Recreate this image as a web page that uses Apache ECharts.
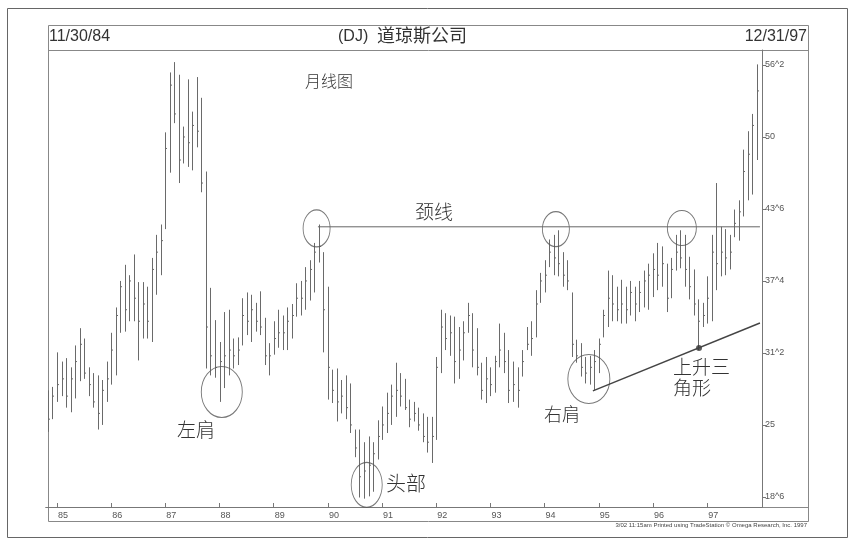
<!DOCTYPE html>
<html><head><meta charset="utf-8">
<script src="https://cdn.jsdelivr.net/npm/echarts@6/dist/echarts.min.js"></script>
<style>html,body{margin:0;padding:0;background:#fff}#c{width:853px;height:543px}</style>
</head><body><div id="c"></div>
<script>
// Monthly bars, Nov 1984 .. Dec 1997 (index 0 = Nov 1984)
const high = [
28.0,28.3,31.3,30.5,30.8,30.0,31.9,33.4,32.5,30.0,29.5,29.3,28.9,30.5,
33.0,35.2,37.5,38.9,38.0,39.8,37.4,37.4,37.0,39.5,41.5,42.4,
50.4,55.6,56.5,55.4,50.9,55.0,52.2,55.2,53.4,47.0,36.9,34.1,
32.2,34.8,35.0,32.5,32.6,36.0,36.5,36.3,35.6,36.6,34.3,32.1,
34.0,35.0,34.5,35.2,35.5,37.3,37.5,38.7,39.3,40.8,42.4,40.0,
37.0,29.8,29.9,28.9,29.3,28.6,24.6,24.6,23.5,24.0,23.5,25.4,
26.6,27.8,28.5,30.4,29.5,29.0,27.2,27.0,26.5,26.0,25.7,25.7,
30.9,35.0,34.7,34.5,34.4,33.5,34.0,35.6,34.7,33.4,30.4,30.9,
30.0,31.0,33.8,33.0,31.5,30.5,30.0,31.5,33.5,34.0,36.7,38.2,
39.3,41.1,41.5,41.9,40.0,39.3,36.5,32.4,32.1,30.9,31.0,31.5,
32.5,35.0,38.4,38.0,37.0,37.6,37.0,37.5,37.0,37.5,38.4,39.0,
39.9,40.8,40.5,39.0,39.5,41.5,41.9,41.5,39.6,38.5,35.9,35.6,
37.9,41.5,46.0,42.2,42.0,41.5,43.7,44.5,48.9,50.5,52.0,56.3
];
const low = [
24.4,25.5,27.0,27.5,26.5,26.1,27.3,28.8,29.0,27.5,26.5,24.6,25.0,27.0,
28.5,29.3,33.0,33.1,34.0,34.0,30.6,32.5,32.5,32.2,36.3,38.0,
42.0,46.9,51.2,46.0,47.7,47.4,47.1,49.1,45.2,29.9,29.3,29.1,
27.0,28.2,29.3,29.9,30.2,31.9,32.8,32.2,33.1,32.8,30.2,29.3,
31.1,31.7,31.5,31.5,32.5,34.4,34.5,35.0,35.8,36.5,39.1,31.3,
27.2,26.9,25.3,26.0,25.5,24.3,22.2,18.7,18.6,18.8,19.2,22.0,
23.7,24.3,25.0,25.7,26.6,26.3,24.8,25.3,24.5,23.5,22.6,21.7,
23.7,29.5,31.5,31.0,28.6,29.0,30.6,33.0,30.0,29.3,27.2,26.9,
27.5,27.8,30.0,29.5,26.9,27.0,26.5,29.2,31.5,31.0,32.6,35.6,
36.5,38.7,38.0,37.9,37.0,36.7,30.9,30.4,29.2,28.6,28.5,28.0,
29.5,32.6,33.5,34.0,34.0,33.8,33.8,34.5,34.0,34.8,35.2,35.0,
36.1,36.7,37.0,34.8,36.0,38.4,38.6,37.0,35.9,34.5,31.5,33.5,
33.8,34.0,36.7,37.9,38.0,38.5,41.3,41.0,43.1,44.5,45.0,48.0
];
const close = [
25.5,27.5,28.5,29.0,27.5,29.0,30.5,32.0,29.5,28.5,27.0,26.0,28.0,29.0,
31.5,34.5,37.0,35.0,37.5,36.0,34.0,35.5,34.0,38.5,40.0,41.0,
49.0,54.5,52.0,48.0,50.0,49.5,51.0,50.5,46.0,33.5,31.0,30.0,
30.5,31.0,31.5,31.0,31.5,34.5,34.0,35.0,34.0,33.5,31.0,31.0,
32.5,33.0,33.0,34.0,34.5,36.0,36.0,37.5,38.5,40.0,40.5,35.0,
30.0,28.0,27.0,27.5,26.5,25.0,23.0,20.5,21.0,21.5,22.5,24.0,
25.0,26.0,27.5,28.0,27.5,26.5,25.5,26.0,25.0,24.0,23.5,24.0,
30.0,33.5,32.5,33.0,30.5,31.5,33.0,34.5,31.5,30.0,28.0,29.0,
28.5,30.5,31.5,30.5,28.0,28.5,28.0,30.5,32.0,32.5,35.5,37.5,
38.0,40.0,39.5,39.0,38.0,37.5,32.0,31.0,30.0,29.5,30.0,30.5,
32.0,34.5,36.0,35.5,35.0,35.5,35.0,36.5,35.5,36.5,37.5,38.0,
38.5,38.0,39.0,36.0,38.5,40.0,39.5,38.5,37.0,35.5,34.0,34.5,
36.0,40.0,39.0,40.0,39.5,40.0,42.5,43.5,47.0,48.5,51.0,54.0
];
const yearLabels = ['85','86','87','88','89','90','91','92','93','94','95','96','97'];
const yearTickIdx = [2,14,26,38,50,62,74,86,98,110,122,134,146]; // January of each year
const priceTicks = [18.75,25,31.25,37.5,43.75,50,56.25];
const priceLabels = ['18^6','25','31^2','37^4','43^6','50','56^2'];
// Annotations (data coordinates: [month index, price])
const neckLine = [[59.8,42.2],[157.7,42.2]];
const trendLine = [[120.7,27.95],[157.7,33.85]];
const circleCenters = [[59.5,42.06],[112.5,42.0],[140.4,42.1],[38.5,27.86],[70.6,19.8],[119.8,28.99]];
const triangleLow = [[144.2,31.68]];

const circleSizes = [[27,37],[27,35],[29,35],[41,51],[31,45],[42,49]];
const bars = high.map((h,i)=>[i,h,low[i],close[i]]);

const chart = echarts.init(document.getElementById('c'));
const gray = '#777';
const txt = '#333';
const barColor = '#6a6a6a';
const cjk = '"Noto Sans CJK SC", sans-serif';
chart.setOption({
  backgroundColor:'#fff',
  animation:false,
  grid:{left:45.7,right:91,top:50,bottom:36},
  xAxis:{type:'value',min:-0.5,max:158.15,splitLine:{show:false},
    axisLine:{show:true,onZero:false,lineStyle:{color:gray,width:1}},
    axisTick:{show:true,inside:true,length:4,customValues:yearTickIdx,lineStyle:{color:gray}},
    axisLabel:{customValues:yearTickIdx,formatter:v=>yearLabels[yearTickIdx.indexOf(v)],align:'left',
      color:'#555',fontSize:9,fontFamily:'Arial',margin:4,padding:[0,0,0,1]}},
  yAxis:{type:'value',position:'right',min:17.875,max:57.55,splitLine:{show:false},
    axisLine:{show:true,onZero:false,lineStyle:{color:gray,width:1}},
    axisTick:{show:true,length:4,customValues:priceTicks,lineStyle:{color:gray}},
    axisLabel:{customValues:priceTicks,formatter:v=>priceLabels[priceTicks.indexOf(v)],
      color:'#555',fontSize:9,fontFamily:'Arial',margin:3}},
  series:[
    {type:'custom',data:bars,encode:{x:0,y:[1,2,3]},clip:true,
     renderItem:(p,api)=>{
       const x=api.value(0);
       const h=api.coord([x,api.value(1)]), l=api.coord([x,api.value(2)]), c=api.coord([x,api.value(3)]);
       const px=Math.round(h[0])+0.5;
       return {type:'group',children:[
         {type:'line',shape:{x1:px,y1:h[1],x2:px,y2:l[1]},style:{stroke:barColor,lineWidth:1}},
         {type:'line',shape:{x1:px,y1:c[1],x2:px+1.5,y2:c[1]},style:{stroke:barColor,lineWidth:1}}
       ]};
     }},
    {type:'line',data:neckLine,symbol:'none',lineStyle:{color:'#666',width:1},silent:true},
    {type:'line',data:trendLine,symbol:'none',lineStyle:{color:'#444',width:1.4},silent:true},
    {type:'scatter',data:circleCenters.map((c,i)=>({value:c,symbolSize:circleSizes[i]})),symbol:'circle',
     itemStyle:{color:'rgba(0,0,0,0)',borderColor:'#555',borderWidth:1},silent:true},
    {type:'scatter',data:triangleLow,symbol:'circle',symbolSize:6,itemStyle:{color:'#333'},silent:true}
  ],
  graphic:[
    {type:'rect',shape:{x:7.5,y:8.5,width:840,height:529},style:{fill:null,stroke:'#666',lineWidth:1},silent:true},
    {type:'rect',shape:{x:48.5,y:25.5,width:760,height:496},style:{fill:null,stroke:'#888',lineWidth:1},silent:true},
    {type:'line',shape:{x1:48,y1:50.5,x2:809,y2:50.5},style:{stroke:'#888',lineWidth:1},silent:true},
    {type:'line',shape:{x1:48,y1:507.5,x2:809,y2:507.5},style:{stroke:'#888',lineWidth:1},silent:true},
    {type:'text',left:49,top:29,style:{text:'11/30/84',font:'16px Arial',fill:txt}},
    {type:'text',right:46,top:29,style:{text:'12/31/97',font:'16px Arial',fill:txt}},
    {type:'text',left:338,top:29,style:{text:'(DJ)',font:'16px Arial',fill:txt}},
    {type:'text',left:377,top:26,style:{text:'道琼斯公司',font:'18px '+cjk,fill:txt}},
    {type:'text',left:305,top:73,style:{text:'月线图',font:'300 16px '+cjk,fill:txt}},
    {type:'text',left:415,top:202,style:{text:'颈线',font:'300 19px '+cjk,fill:txt}},
    {type:'text',left:177,top:420,style:{text:'左肩',font:'300 19px '+cjk,fill:txt}},
    {type:'text',left:386,top:473,style:{text:'头部',font:'300 20px '+cjk,fill:txt}},
    {type:'text',left:544,top:405,style:{text:'右肩',font:'300 18px '+cjk,fill:txt}},
    {type:'text',left:673,top:356,style:{text:'上升三\n角形',font:'300 19px '+cjk,fill:txt,lineHeight:21}},
    {type:'text',right:46,top:522,style:{text:'3/02 11:15am Printed using TradeStation \u00a9 Omega Research, Inc. 1997',font:'6px Arial',fill:'#444'}}
  ]
});
</script></body></html>
